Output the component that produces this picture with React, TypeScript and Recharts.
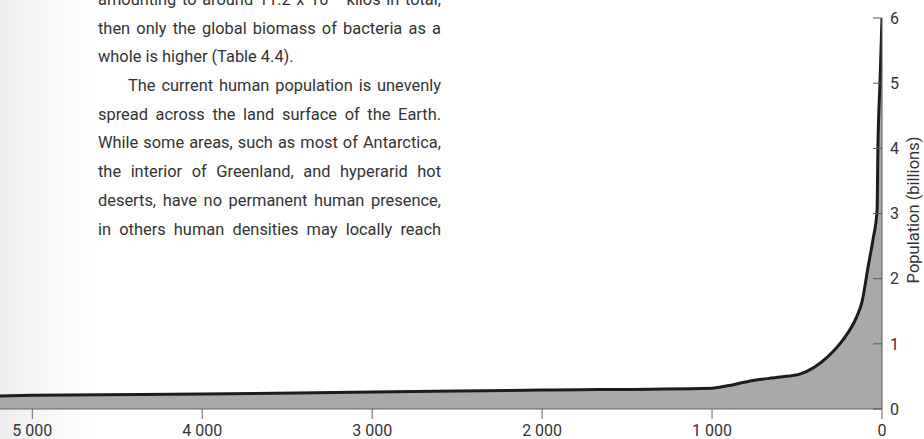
import { AreaChart, Area, XAxis, YAxis } from "recharts";

// years before present, population in billions
const years = [5190, 5000, 4000, 3000, 2000, 1000, 900, 776, 600, 480, 320, 230, 150, 118, 82, 53, 29, 24, 12, 0];
const population = [0.2, 0.21, 0.23, 0.26, 0.29, 0.32, 0.36, 0.43, 0.49, 0.54, 0.8, 1.06, 1.41, 1.64, 2.18, 2.6, 3.05, 4.0, 5.0, 6.0];
const yearTicks = [5000, 4000, 3000, 2000, 1000, 0];
const popTicks = [0, 1, 2, 3, 4, 5, 6];

const data = years.map((y, i) => ({ year: y, pop: population[i] }));

const fmtYear = (n: number) =>
  n >= 1000 ? `${Math.floor(n / 1000)} ${String(n % 1000).padStart(3, "0")}` : String(n);

const font = "Roboto, 'DejaVu Sans', sans-serif";
const ink = "#333";

// page text that runs over the figure
const lines: { text: React.ReactNode; last?: boolean; indent?: boolean }[] = [
  { text: <>amounting to around 11.2 x 10<sup style={{ fontSize: 11, lineHeight: 0 }}>11</sup> kilos in total,</> },
  { text: "then only the global biomass of bacteria as a" },
  { text: "whole is higher (Table 4.4).", last: true },
  { text: "The current human population is unevenly", indent: true },
  { text: "spread across the land surface of the Earth." },
  { text: "While some areas, such as most of Antarctica," },
  { text: "the interior of Greenland, and hyperarid hot" },
  { text: "deserts, have no permanent human presence," },
  { text: "in others human densities may locally reach" },
];

export default function App() {
  return (
    <div
      style={{
        position: "absolute",
        left: 0,
        top: 0,
        width: 924,
        height: 439,
        overflow: "hidden",
        background: "linear-gradient(to right, #ededed 0px, #f8f8f8 50px, #ffffff 95px)",
        fontFamily: font,
      }}
    >
      <AreaChart width={924} height={439} data={data} margin={{ top: 18, right: 0, bottom: 0, left: 0 }}>
        <XAxis
          dataKey="year"
          type="number"
          domain={[0, 5190]}
          reversed
          ticks={yearTicks}
          tickFormatter={fmtYear}
          height={30}
          tickSize={10}
          tickMargin={6}
          stroke="#666"
          tick={{ fontSize: 16, fill: ink, fontFamily: font }}
          allowDataOverflow
        />
        <YAxis
          orientation="right"
          type="number"
          domain={[0, 6]}
          ticks={popTicks}
          width={42}
          tickSize={-9}
          tickMargin={17}
          stroke="#555"
          tick={{ fontSize: 16, fill: ink, fontFamily: font }}
        />
        <Area
          type="monotone"
          dataKey="pop"
          stroke="#1c1c1c"
          strokeWidth={3}
          fill="#a9a9a9"
          fillOpacity={1}
          isAnimationActive={false}
          dot={false}
          activeDot={false}
        />
      </AreaChart>

      <svg width={924} height={439} style={{ position: "absolute", left: 0, top: 0, pointerEvents: "none" }}>
        <text
          x={919}
          y={210}
          transform="rotate(-90 919 210)"
          textAnchor="middle"
          fontSize={16.5}
          fill={ink}
          fontFamily={font}
        >
          Population (billions)
        </text>
      </svg>

      <div
        style={{
          position: "absolute",
          left: 98,
          top: -14,
          width: 343,
          fontSize: 16.4,
          lineHeight: "28.7px",
          color: ink,
        }}
      >
        {lines.map((l, i) => (
          <div
            key={i}
            style={{
              textAlign: "justify",
              textAlignLast: l.last ? "left" : "justify",
              textIndent: l.indent ? 30 : 0,
              whiteSpace: "nowrap",
              height: 28.7,
            }}
          >
            {l.text}
          </div>
        ))}
      </div>
    </div>
  );
}
